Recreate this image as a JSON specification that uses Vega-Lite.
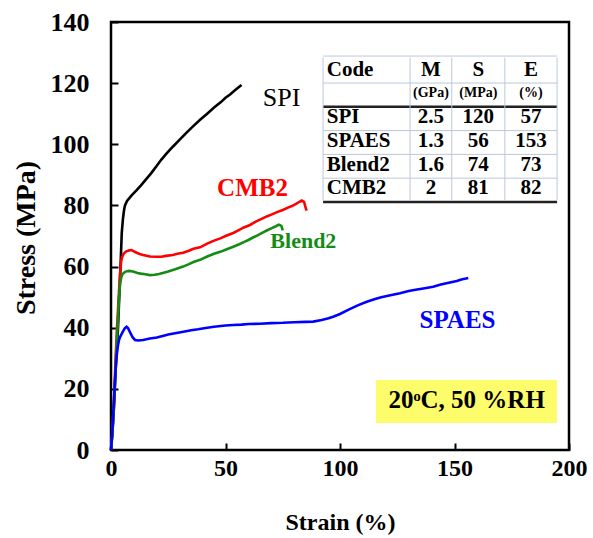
{
  "$schema": "https://vega.github.io/schema/vega-lite/v6.json",
  "width": 458,
  "height": 428,
  "autosize": "none",
  "padding": {"left": 111, "top": 22, "right": 24, "bottom": 88},
  "background": "white",
  "config": {
    "font": "Liberation Serif",
    "view": {"stroke": "black", "strokeWidth": 2.5}
  },
  "datasets": {
    "curves": [
      {"code":"SPI","strain":0,"stress":0},{"code":"SPI","strain":0.4,"stress":4},{"code":"SPI","strain":1,"stress":10},{"code":"SPI","strain":1.5,"stress":17},{"code":"SPI","strain":2,"stress":26},{"code":"SPI","strain":2.5,"stress":33},{"code":"SPI","strain":3,"stress":39},{"code":"SPI","strain":3.2,"stress":42.5},{"code":"SPI","strain":3.6,"stress":50},{"code":"SPI","strain":4,"stress":57},{"code":"SPI","strain":4.4,"stress":65},{"code":"SPI","strain":4.7,"stress":71},{"code":"SPI","strain":5.2,"stress":75.5},{"code":"SPI","strain":5.7,"stress":78.5},{"code":"SPI","strain":6.1,"stress":80},{"code":"SPI","strain":7,"stress":81.5},{"code":"SPI","strain":9,"stress":83.3},{"code":"SPI","strain":11.2,"stress":85},{"code":"SPI","strain":13,"stress":86.5},{"code":"SPI","strain":15,"stress":88.3},{"code":"SPI","strain":17.5,"stress":90.5},{"code":"SPI","strain":20,"stress":93},{"code":"SPI","strain":22,"stress":95},{"code":"SPI","strain":24.3,"stress":97},{"code":"SPI","strain":27,"stress":99.2},{"code":"SPI","strain":30,"stress":101.5},{"code":"SPI","strain":33,"stress":103.8},{"code":"SPI","strain":35,"stress":105.3},{"code":"SPI","strain":38.9,"stress":108},{"code":"SPI","strain":42,"stress":110},{"code":"SPI","strain":45,"stress":112},{"code":"SPI","strain":48,"stress":113.8},{"code":"SPI","strain":50,"stress":115.2},{"code":"SPI","strain":52,"stress":116.3},{"code":"SPI","strain":54,"stress":117.6},{"code":"SPI","strain":56,"stress":118.8},{"code":"SPI","strain":57,"stress":119.4},
      {"code":"CMB2","strain":0,"stress":0},{"code":"CMB2","strain":0.5,"stress":5},{"code":"CMB2","strain":1,"stress":12},{"code":"CMB2","strain":1.5,"stress":20},{"code":"CMB2","strain":2,"stress":30},{"code":"CMB2","strain":2.5,"stress":38},{"code":"CMB2","strain":3,"stress":45},{"code":"CMB2","strain":3.5,"stress":52},{"code":"CMB2","strain":4,"stress":58},{"code":"CMB2","strain":4.4,"stress":61.5},{"code":"CMB2","strain":4.8,"stress":63},{"code":"CMB2","strain":5.5,"stress":64.2},{"code":"CMB2","strain":6.5,"stress":64.9},{"code":"CMB2","strain":8,"stress":65.3},{"code":"CMB2","strain":9,"stress":65.4},{"code":"CMB2","strain":10,"stress":65},{"code":"CMB2","strain":11,"stress":64.6},{"code":"CMB2","strain":12.5,"stress":64.1},{"code":"CMB2","strain":14,"stress":63.8},{"code":"CMB2","strain":17,"stress":63.3},{"code":"CMB2","strain":20,"stress":63.2},{"code":"CMB2","strain":22,"stress":63.2},{"code":"CMB2","strain":24,"stress":63.5},{"code":"CMB2","strain":27,"stress":63.8},{"code":"CMB2","strain":29,"stress":64.2},{"code":"CMB2","strain":31.5,"stress":64.5},{"code":"CMB2","strain":34,"stress":65.2},{"code":"CMB2","strain":36,"stress":65.8},{"code":"CMB2","strain":38.9,"stress":66.3},{"code":"CMB2","strain":42,"stress":67.5},{"code":"CMB2","strain":45,"stress":68.5},{"code":"CMB2","strain":48,"stress":69.3},{"code":"CMB2","strain":50,"stress":70},{"code":"CMB2","strain":53.4,"stress":71},{"code":"CMB2","strain":56,"stress":72},{"code":"CMB2","strain":58,"stress":72.8},{"code":"CMB2","strain":60.7,"stress":73.6},{"code":"CMB2","strain":63,"stress":74.6},{"code":"CMB2","strain":66,"stress":75.7},{"code":"CMB2","strain":68,"stress":76.4},{"code":"CMB2","strain":70,"stress":77},{"code":"CMB2","strain":72.5,"stress":77.8},{"code":"CMB2","strain":75,"stress":78.5},{"code":"CMB2","strain":77,"stress":79.2},{"code":"CMB2","strain":79,"stress":79.8},{"code":"CMB2","strain":81,"stress":80.6},{"code":"CMB2","strain":82.3,"stress":81.2},{"code":"CMB2","strain":83.3,"stress":81.6},{"code":"CMB2","strain":84.3,"stress":81.2},{"code":"CMB2","strain":84.8,"stress":79.8},{"code":"CMB2","strain":85.4,"stress":78.3},
      {"code":"Blend2","strain":0,"stress":0},{"code":"Blend2","strain":0.5,"stress":4},{"code":"Blend2","strain":1,"stress":10},{"code":"Blend2","strain":1.5,"stress":18},{"code":"Blend2","strain":2,"stress":27},{"code":"Blend2","strain":2.5,"stress":35},{"code":"Blend2","strain":3,"stress":42},{"code":"Blend2","strain":3.5,"stress":50},{"code":"Blend2","strain":4,"stress":54.5},{"code":"Blend2","strain":4.5,"stress":56.5},{"code":"Blend2","strain":5,"stress":57.5},{"code":"Blend2","strain":6,"stress":58.2},{"code":"Blend2","strain":7,"stress":58.5},{"code":"Blend2","strain":8,"stress":58.6},{"code":"Blend2","strain":9,"stress":58.5},{"code":"Blend2","strain":10,"stress":58.3},{"code":"Blend2","strain":11.5,"stress":57.9},{"code":"Blend2","strain":13,"stress":57.7},{"code":"Blend2","strain":15,"stress":57.5},{"code":"Blend2","strain":17,"stress":57.2},{"code":"Blend2","strain":19,"stress":57.3},{"code":"Blend2","strain":21,"stress":57.6},{"code":"Blend2","strain":23,"stress":58},{"code":"Blend2","strain":25,"stress":58.4},{"code":"Blend2","strain":28,"stress":59.1},{"code":"Blend2","strain":31.5,"stress":60},{"code":"Blend2","strain":34,"stress":60.8},{"code":"Blend2","strain":36,"stress":61.5},{"code":"Blend2","strain":38.9,"stress":62.2},{"code":"Blend2","strain":42,"stress":63.3},{"code":"Blend2","strain":45,"stress":64.2},{"code":"Blend2","strain":48,"stress":64.9},{"code":"Blend2","strain":50,"stress":65.5},{"code":"Blend2","strain":53.4,"stress":66.5},{"code":"Blend2","strain":56,"stress":67.3},{"code":"Blend2","strain":58,"stress":68},{"code":"Blend2","strain":60,"stress":68.7},{"code":"Blend2","strain":62,"stress":69.5},{"code":"Blend2","strain":64,"stress":70.2},{"code":"Blend2","strain":66,"stress":71},{"code":"Blend2","strain":68,"stress":71.8},{"code":"Blend2","strain":70,"stress":72.5},{"code":"Blend2","strain":72,"stress":73.2},{"code":"Blend2","strain":73.3,"stress":73.7},{"code":"Blend2","strain":74.4,"stress":73.3},{"code":"Blend2","strain":75,"stress":71.8},
      {"code":"SPAES","strain":0,"stress":0},{"code":"SPAES","strain":0.5,"stress":5},{"code":"SPAES","strain":1,"stress":12},{"code":"SPAES","strain":1.5,"stress":19},{"code":"SPAES","strain":2,"stress":26},{"code":"SPAES","strain":2.5,"stress":31},{"code":"SPAES","strain":3,"stress":34},{"code":"SPAES","strain":3.5,"stress":36},{"code":"SPAES","strain":4,"stress":37},{"code":"SPAES","strain":5,"stress":38.5},{"code":"SPAES","strain":6,"stress":39.8},{"code":"SPAES","strain":6.8,"stress":40.3},{"code":"SPAES","strain":7.5,"stress":39.8},{"code":"SPAES","strain":8.5,"stress":38.2},{"code":"SPAES","strain":9.5,"stress":36.8},{"code":"SPAES","strain":10.5,"stress":36},{"code":"SPAES","strain":12,"stress":35.8},{"code":"SPAES","strain":14,"stress":36},{"code":"SPAES","strain":17,"stress":36.5},{"code":"SPAES","strain":20,"stress":36.8},{"code":"SPAES","strain":23,"stress":37.4},{"code":"SPAES","strain":25,"stress":37.8},{"code":"SPAES","strain":28,"stress":38.2},{"code":"SPAES","strain":31.6,"stress":38.7},{"code":"SPAES","strain":35,"stress":39.2},{"code":"SPAES","strain":38,"stress":39.5},{"code":"SPAES","strain":42,"stress":40},{"code":"SPAES","strain":45,"stress":40.3},{"code":"SPAES","strain":50,"stress":40.7},{"code":"SPAES","strain":53.4,"stress":40.9},{"code":"SPAES","strain":57,"stress":41},{"code":"SPAES","strain":60,"stress":41.2},{"code":"SPAES","strain":65,"stress":41.3},{"code":"SPAES","strain":70,"stress":41.5},{"code":"SPAES","strain":75,"stress":41.6},{"code":"SPAES","strain":80,"stress":41.8},{"code":"SPAES","strain":85,"stress":41.9},{"code":"SPAES","strain":88.3,"stress":42},{"code":"SPAES","strain":92,"stress":42.5},{"code":"SPAES","strain":95,"stress":43.1},{"code":"SPAES","strain":97,"stress":43.6},{"code":"SPAES","strain":100,"stress":44.5},{"code":"SPAES","strain":104,"stress":46},{"code":"SPAES","strain":108,"stress":47.4},{"code":"SPAES","strain":111.7,"stress":48.5},{"code":"SPAES","strain":115,"stress":49.3},{"code":"SPAES","strain":118,"stress":50},{"code":"SPAES","strain":122,"stress":50.6},{"code":"SPAES","strain":126.2,"stress":51.3},{"code":"SPAES","strain":130,"stress":52},{"code":"SPAES","strain":133,"stress":52.4},{"code":"SPAES","strain":137,"stress":52.9},{"code":"SPAES","strain":140.7,"stress":53.4},{"code":"SPAES","strain":144,"stress":54.1},{"code":"SPAES","strain":148,"stress":54.8},{"code":"SPAES","strain":151,"stress":55.3},{"code":"SPAES","strain":153,"stress":55.8},{"code":"SPAES","strain":155,"stress":56.1},{"code":"SPAES","strain":156,"stress":56.3}
    ],
    "table": [
      {"row":0,"code":"Code","M":"M","S":"S","E":"E"},
      {"row":1,"code":"","M":"(GPa)","S":"(MPa)","E":"(%)"},
      {"row":2,"code":"SPI","M":"2.5","S":"120","E":"57"},
      {"row":3,"code":"SPAES","M":"1.3","S":"56","E":"153"},
      {"row":4,"code":"Blend2","M":"1.6","S":"74","E":"73"},
      {"row":5,"code":"CMB2","M":"2","S":"81","E":"82"}
    ]
  },
  "layer": [
    {
      "layer": [
        {
          "data": {"values": [{}]},
          "mark": {"type": "rect", "fill": "#fdfd6c"},
          "encoding": {
            "x": {"datum": 115.7, "type": "quantitative"},
            "x2": {"datum": 194.8},
            "y": {"datum": 8.8, "type": "quantitative"},
            "y2": {"datum": 22.9}
          }
        },
        {
          "data": {"name": "curves"},
          "mark": {"type": "line", "strokeWidth": 2.6},
          "encoding": {
            "x": {
              "field": "strain", "type": "quantitative",
              "scale": {"domain": [0, 200], "nice": false},
              "axis": {
                "values": [0, 50, 100, 150, 200], "title": "Strain (%)", "grid": false, "domain": false,
                "tickSize": -7, "tickWidth": 2, "tickColor": "black", "labelPadding": 13,
                "labelFont": "Liberation Serif", "labelFontSize": 24, "labelFontWeight": 700, "labelColor": "black",
                "labelFlush": false, "labelOverlap": false,
                "titleFont": "Liberation Serif", "titleFontSize": 24, "titleFontWeight": 700, "titleColor": "black",
                "titleY": 72, "titleBaseline": "middle"
              }
            },
            "y": {
              "field": "stress", "type": "quantitative",
              "scale": {"domain": [0, 140], "nice": false},
              "axis": {
                "values": [0, 20, 40, 60, 80, 100, 120, 140], "title": "Stress (MPa)", "grid": false, "domain": false,
                "tickSize": -7, "tickWidth": 2, "tickColor": "black", "labelPadding": 29,
                "labelFont": "Liberation Serif", "labelFontSize": 26, "labelFontWeight": 700, "labelColor": "black",
                "labelFlush": false, "labelOverlap": false,
                "titleFont": "Liberation Serif", "titleFontSize": 28, "titleFontWeight": 700, "titleColor": "black",
                "titleX": -84.5, "titleY": 215.5, "titleBaseline": "middle"
              }
            },
            "color": {
              "field": "code", "type": "nominal",
              "scale": {"domain": ["SPI", "CMB2", "Blend2", "SPAES"], "range": ["#000000", "#ff0000", "#148c14", "#0000ff"]},
              "legend": null
            }
          }
        },
        {
          "data": {"values": [{}]},
          "mark": {"type": "text", "text": "SPI", "font": "Liberation Serif", "fontSize": 26, "color": "black", "align": "center", "baseline": "middle"},
          "encoding": {"x": {"datum": 74.5, "type": "quantitative"}, "y": {"datum": 115, "type": "quantitative"}}
        },
        {
          "data": {"values": [{}]},
          "mark": {"type": "text", "text": "CMB2", "font": "Liberation Serif", "fontSize": 25, "fontWeight": 700, "color": "#ff0000", "align": "center", "baseline": "middle"},
          "encoding": {"x": {"datum": 61.8, "type": "quantitative"}, "y": {"datum": 85.6, "type": "quantitative"}}
        },
        {
          "data": {"values": [{}]},
          "mark": {"type": "text", "text": "Blend2", "font": "Liberation Serif", "fontSize": 22, "fontWeight": 700, "color": "#148c14", "align": "center", "baseline": "middle"},
          "encoding": {"x": {"datum": 84, "type": "quantitative"}, "y": {"datum": 68.4, "type": "quantitative"}}
        },
        {
          "data": {"values": [{}]},
          "mark": {"type": "text", "text": "SPAES", "font": "Liberation Serif", "fontSize": 25, "fontWeight": 700, "color": "#0000ff", "align": "center", "baseline": "middle"},
          "encoding": {"x": {"datum": 151.3, "type": "quantitative"}, "y": {"datum": 42.5, "type": "quantitative"}}
        },
        {
          "data": {"values": [{}]},
          "mark": {"type": "text", "text": "20ᵒC, 50 %RH", "font": "Liberation Serif", "fontSize": 25, "fontWeight": 700, "color": "black", "align": "center", "baseline": "middle"},
          "encoding": {"x": {"datum": 155.3, "type": "quantitative"}, "y": {"datum": 16.2, "type": "quantitative"}}
        }
      ]
    },
    {
      "data": {"name": "table"},
      "layer": [
        {
          "mark": {"type": "rule", "strokeWidth": 1, "color": "#bcc6dc"},
          "transform": [{"filter": "datum.row == 0"}],
          "encoding": {
            "x": {"datum": 92.6, "type": "quantitative"},
            "x2": {"datum": 194.8},
            "y": {"field": "row", "type": "quantitative", "scale": {"domain": [-1.037, 14.815], "reverse": true}, "axis": null},
            "yOffset": {"value": -13.5}
          }
        },
        {
          "mark": {"type": "rule"},
          "encoding": {
            "x": {"datum": 92.6, "type": "quantitative"},
            "x2": {"datum": 194.8},
            "y": {"field": "row", "type": "quantitative"},
            "yOffset": {"value": 13.5},
            "color": {"condition": {"test": "datum.row == 1 || datum.row == 5", "value": "#222222"}, "value": "#bcc6dc"},
            "strokeWidth": {"condition": {"test": "datum.row == 1 || datum.row == 5", "value": 2.5}, "value": 1}
          }
        },
        {
          "data": {"values": [{}]},
          "mark": {"type": "rule", "strokeWidth": 1, "color": "#bcc6dc"},
          "encoding": {"x": {"datum": 92.6, "type": "quantitative"}, "y": {"datum": -0.5, "type": "quantitative"}, "y2": {"datum": 5.5}}
        },
        {
          "data": {"values": [{}]},
          "mark": {"type": "rule", "strokeWidth": 1, "color": "#bcc6dc"},
          "encoding": {"x": {"datum": 130.6, "type": "quantitative"}, "y": {"datum": -0.5, "type": "quantitative"}, "y2": {"datum": 5.5}}
        },
        {
          "data": {"values": [{}]},
          "mark": {"type": "rule", "strokeWidth": 1, "color": "#bcc6dc"},
          "encoding": {"x": {"datum": 148.8, "type": "quantitative"}, "y": {"datum": -0.5, "type": "quantitative"}, "y2": {"datum": 5.5}}
        },
        {
          "data": {"values": [{}]},
          "mark": {"type": "rule", "strokeWidth": 1, "color": "#bcc6dc"},
          "encoding": {"x": {"datum": 172, "type": "quantitative"}, "y": {"datum": -0.5, "type": "quantitative"}, "y2": {"datum": 5.5}}
        },
        {
          "data": {"values": [{}]},
          "mark": {"type": "rule", "strokeWidth": 1, "color": "#bcc6dc"},
          "encoding": {"x": {"datum": 194.8, "type": "quantitative"}, "y": {"datum": -0.5, "type": "quantitative"}, "y2": {"datum": 5.5}}
        },
        {
          "mark": {"type": "text", "font": "Liberation Serif", "align": "left", "baseline": "middle", "fontWeight": 700, "fontSize": 21, "color": "black"},
          "encoding": {
            "x": {"datum": 94.2, "type": "quantitative"},
            "y": {"field": "row", "type": "quantitative"},
            "text": {"field": "code"}
          }
        },
        {
          "mark": {"type": "text", "font": "Liberation Serif", "align": "center", "baseline": "middle", "fontWeight": 700, "color": "black"},
          "encoding": {
            "x": {"datum": 139.7, "type": "quantitative"},
            "y": {"field": "row", "type": "quantitative"},
            "text": {"field": "M"},
            "size": {"condition": {"test": "datum.row == 1", "value": 14}, "value": 21}
          }
        },
        {
          "mark": {"type": "text", "font": "Liberation Serif", "align": "center", "baseline": "middle", "fontWeight": 700, "color": "black"},
          "encoding": {
            "x": {"datum": 160.4, "type": "quantitative"},
            "y": {"field": "row", "type": "quantitative"},
            "text": {"field": "S"},
            "size": {"condition": {"test": "datum.row == 1", "value": 14}, "value": 21}
          }
        },
        {
          "mark": {"type": "text", "font": "Liberation Serif", "align": "center", "baseline": "middle", "fontWeight": 700, "color": "black"},
          "encoding": {
            "x": {"datum": 183.4, "type": "quantitative"},
            "y": {"field": "row", "type": "quantitative"},
            "text": {"field": "E"},
            "size": {"condition": {"test": "datum.row == 1", "value": 14}, "value": 21}
          }
        }
      ]
    }
  ],
  "resolve": {"scale": {"y": "independent"}}
}
